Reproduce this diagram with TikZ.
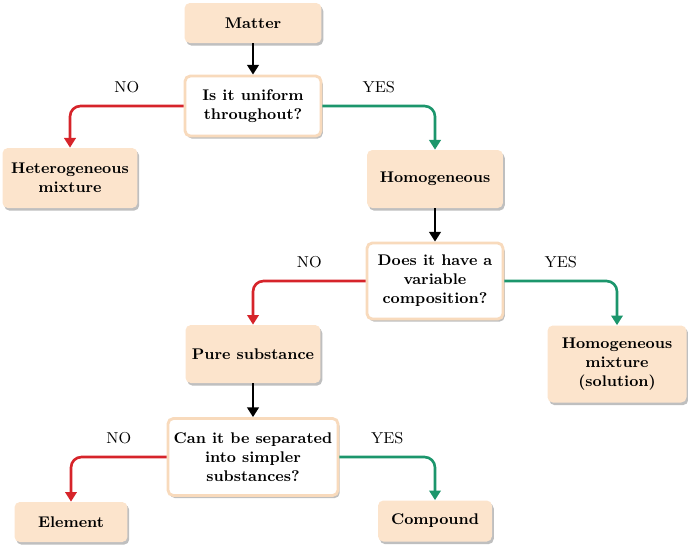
\documentclass[tikz,border=0pt]{standalone}
\usetikzlibrary{arrows.meta,shadows}
\definecolor{peach}{RGB}{252,228,204}
\definecolor{peachline}{RGB}{248,218,188}
\definecolor{nored}{RGB}{214,36,42}
\definecolor{yesgreen}{RGB}{28,150,108}
\tikzset{
  box/.style={rounded corners=3pt,fill=peach,align=center,inner sep=0pt,
    font=\fontsize{8.8}{10.8}\selectfont\bfseries,
    drop shadow={shadow xshift=1pt,shadow yshift=-1.5pt,fill=black,opacity=0.25}},
  ask/.style={box,fill=white,draw=peachline,line width=1.6pt},
  link/.style={line width=1.5pt,rounded corners=6pt,-{Triangle[length=5.5pt,width=6.5pt]}},
  lbl/.style={font=\fontsize{9}{10}\selectfont,pos=0.25,above=3.5pt}
}
\begin{document}
\begin{tikzpicture}[x=0.02cm,y=-0.02cm]
\useasboundingbox (0,0) rectangle (688,545);
\node[box,minimum width=2.74cm,minimum height=0.8cm] (mat) at (253,23) {Matter};
\node[ask,minimum width=2.72cm,minimum height=1.2cm] (q1) at (253,106) {Is it uniform\\throughout?};
\node[box,minimum width=2.7cm,minimum height=1.2cm] (het) at (70,178) {Heterogeneous\\mixture};
\node[box,minimum width=2.72cm,minimum height=1.16cm] (hom) at (435,179) {Homogeneous};
\node[ask,minimum width=2.72cm,minimum height=1.52cm] (q2) at (435,281) {Does it have a\\variable\\composition?};
\node[box,minimum width=2.7cm,minimum height=1.16cm] (pur) at (253,354) {Pure substance};
\node[box,minimum width=2.78cm,minimum height=1.54cm] (sol) at (617,364) {Homogeneous\\mixture\\(solution)};
\node[ask,minimum width=3.4cm,minimum height=1.54cm] (q3) at (253,457) {Can it be separated\\into simpler\\substances?};
\node[box,minimum width=2.26cm,minimum height=0.8cm] (ele) at (71,522) {Element};
\node[box,minimum width=2.28cm,minimum height=0.82cm] (com) at (435,521) {Compound};
\foreach \a/\b in {mat/q1,hom/q2,pur/q3}
  \draw[link] (\a) -- (\b);
\foreach \q/\l/\r in {q1/het/hom,q2/pur/sol,q3/ele/com}
{
\draw[link,nored] (\q.west) -| node[lbl,text=black] (no\q) {NO} (\l.north);
\draw[link,yesgreen] (\q.east) -| node[lbl,text=black] (yes\q) {YES} (\r.north);
}
\end{tikzpicture}
\end{document}
